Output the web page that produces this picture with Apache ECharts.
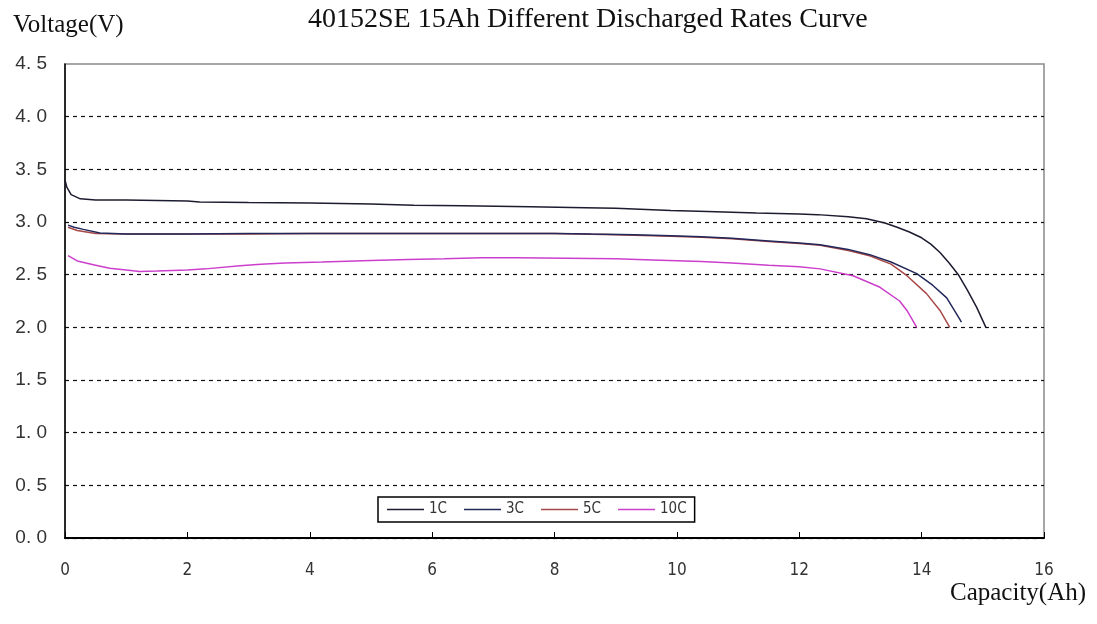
<!DOCTYPE html>
<html>
<head>
<meta charset="utf-8">
<script src="https://cdn.jsdelivr.net/npm/echarts@6/dist/echarts.min.js"></script>
<style>html,body{margin:0;padding:0;background:#fff;}#chart{width:1097px;height:624px;}</style>
</head>
<body>
<div id="chart"></div>
<script>
const seriesNames = ['1C', '3C', '5C', '10C'];
const xTicks = [0, 2, 4, 6, 8, 10, 12, 14, 16];
const yTicks = [0, 0.5, 1.0, 1.5, 2.0, 2.5, 3.0, 3.5, 4.0, 4.5];

const cap1C  = [0, 0.03, 0.1, 0.25, 0.5, 1, 2, 2.2, 3, 4, 5, 5.7, 6.5, 7.6, 8.5, 9, 9.9, 10.5, 11.3, 12, 12.3, 12.8, 13.1, 13.4, 13.6, 13.8, 14, 14.15, 14.3, 14.45, 14.6, 14.75, 14.9, 15.05];
const volt1C = [3.40, 3.33, 3.26, 3.22, 3.21, 3.21, 3.20, 3.19, 3.185, 3.18, 3.17, 3.16, 3.155, 3.145, 3.135, 3.13, 3.11, 3.10, 3.085, 3.075, 3.07, 3.05, 3.03, 2.99, 2.95, 2.905, 2.85, 2.79, 2.71, 2.61, 2.5, 2.35, 2.19, 2.0];

const cap3C  = [0.05, 0.15, 0.3, 0.57, 1, 2, 3, 4, 5, 6, 7, 8, 8.6, 9.3, 9.9, 10.4, 10.9, 11.5, 12, 12.34, 12.8, 13.15, 13.5, 13.92, 14.18, 14.41, 14.62, 14.65];
const volt3C = [2.97, 2.95, 2.93, 2.895, 2.885, 2.885, 2.89, 2.89, 2.89, 2.89, 2.89, 2.89, 2.885, 2.88, 2.87, 2.86, 2.845, 2.82, 2.80, 2.785, 2.74, 2.69, 2.62, 2.51, 2.40, 2.28, 2.08, 2.05];

const cap5C  = [0.05, 0.2, 0.5, 1, 2, 3, 4, 5, 6, 7, 8, 9, 9.9, 10.4, 10.9, 11.5, 12, 12.34, 12.8, 13.15, 13.5, 13.76, 14.08, 14.3, 14.46];
const volt5C = [2.95, 2.92, 2.89, 2.885, 2.885, 2.885, 2.89, 2.89, 2.89, 2.89, 2.89, 2.88, 2.865, 2.855, 2.84, 2.815, 2.795, 2.78, 2.73, 2.68, 2.60, 2.49, 2.32, 2.16, 2.0];

const cap10C  = [0.05, 0.2, 0.5, 0.73, 1.0, 1.22, 1.5, 2.0, 2.3, 2.86, 3.2, 3.6, 4.2, 5, 5.6, 6.2, 6.8, 7.4, 8.2, 9, 9.6, 10.4, 10.9, 11.5, 12, 12.34, 12.88, 13.32, 13.64, 13.76, 13.92];
const volt10C = [2.68, 2.63, 2.59, 2.56, 2.545, 2.53, 2.535, 2.545, 2.555, 2.585, 2.60, 2.61, 2.62, 2.635, 2.645, 2.65, 2.66, 2.66, 2.655, 2.65, 2.64, 2.625, 2.61, 2.59, 2.575, 2.555, 2.49, 2.38, 2.25, 2.16, 2.0];

const titleText = '40152SE 15Ah Different Discharged Rates Curve';
const yName = 'Voltage(V)';
const xName = 'Capacity(Ah)';
const colors = ['#1c1c30', '#22285a', '#a84848', '#cc3fcc'];

function pairs(xs, ys) { return xs.map((x, i) => [x, ys[i]]); }
const allData = [pairs(cap1C, volt1C), pairs(cap3C, volt3C), pairs(cap5C, volt5C), pairs(cap10C, volt10C)];

const chart = echarts.init(document.getElementById('chart'), null, {renderer: 'canvas'});
const splitColors = yTicks.map((v, i) => i === yTicks.length - 1 ? 'rgba(0,0,0,0)' : '#111');
const narrowFont = "'Liberation Sans Narrow', 'DejaVu Sans Condensed', 'Liberation Sans', sans-serif";

chart.setOption({
  animation: false,
  backgroundColor: '#fff',
  title: [
    {text: titleText, left: 303, top: 1, textStyle: {fontFamily: 'Liberation Serif', fontSize: 28, fontWeight: 'normal', color: '#111'}},
    {text: yName, left: 8, top: 8, textStyle: {fontFamily: 'Liberation Serif', fontSize: 25, fontWeight: 'normal', color: '#111'}},
    {text: xName, left: 945, top: 576, textStyle: {fontFamily: 'Liberation Serif', fontSize: 25, fontWeight: 'normal', color: '#111'}}
  ],
  legend: {
    data: seriesNames,
    left: 378, top: 497,
    orient: 'horizontal',
    icon: 'rect',
    itemWidth: 37, itemHeight: 1.5, itemGap: 17,
    padding: [5, 8, 5, 9],
    borderColor: '#000', borderWidth: 1.5,
    textStyle: {fontFamily: narrowFont, fontSize: 15, color: '#333'}
  },
  grid: {left: 65, right: 53, top: 64, bottom: 86, show: true, borderColor: '#8a8a8a', borderWidth: 1.5, backgroundColor: 'transparent'},
  xAxis: {
    type: 'value', min: 0, max: 16, interval: 2,
    axisLine: {show: true, lineStyle: {color: '#000', width: 2}},
    axisTick: {show: true, inside: true, length: 6, lineStyle: {color: '#000', width: 1}},
    axisLabel: {margin: 24, fontFamily: narrowFont, fontSize: 17, color: '#333'},
    splitLine: {show: false}
  },
  yAxis: {
    type: 'value', min: 0, max: 4.5, interval: 0.5,
    axisLine: {show: true, lineStyle: {color: '#000', width: 1.5}},
    axisTick: {show: false},
    axisLabel: {margin: 18, fontFamily: 'Liberation Sans', fontSize: 19, color: '#333',
      formatter: v => v.toFixed(1).replace('.', '. ')},
    splitLine: {show: true, lineStyle: {color: splitColors, type: [4, 4], width: 1.2}}
  },
  series: seriesNames.map((n, i) => ({
    name: n, type: 'line', data: allData[i], showSymbol: false, symbol: 'none',
    lineStyle: {color: colors[i], width: 1.5}, itemStyle: {color: colors[i]}, z: 3 + (3 - i)
  }))
});
</script>
</body>
</html>
